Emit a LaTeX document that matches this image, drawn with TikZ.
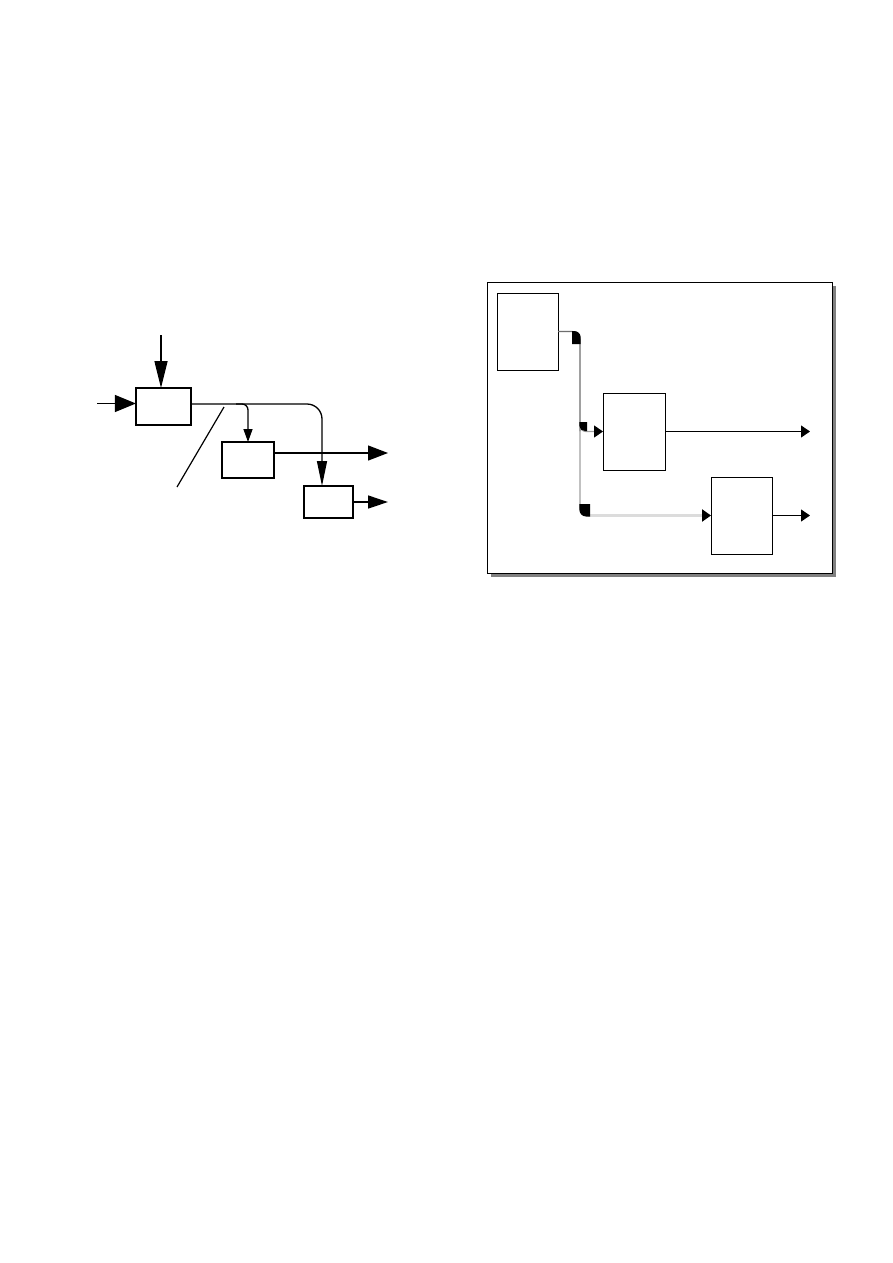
\documentclass[tikz,border=0pt]{standalone}
\usetikzlibrary{arrows.meta,shadows}
\definecolor{lineA}{HTML}{6E6E6E}
\definecolor{lineB}{HTML}{A0A0A0}
\definecolor{lineC}{HTML}{DCDCDC}
\definecolor{shadowgray}{HTML}{808080}
\tikzset{
  lbox/.style={draw=black, line width=1.5pt, fill=white, inner sep=0pt, outer sep=0pt, rectangle},
  rbox/.style={draw=black, line width=1pt, fill=white, inner sep=0pt, outer sep=0pt, rectangle, minimum width=61pt, minimum height=77pt},
  lline/.style={line width=1.3pt, black},
  bigtip/.style={-{Triangle[length=20pt,width=15pt]}},
  rtip/.style={-{Triangle[length=9pt,width=12pt,color=black]}},
  frame/.style={draw=black, line width=1pt, fill=white, inner sep=0pt, outer sep=0pt,
    minimum width=345pt, minimum height=291pt,
    drop shadow={shadow xshift=4pt, shadow yshift=-4pt, fill=shadowgray, opacity=1}},
}
\begin{document}
\begin{tikzpicture}[x=1pt,y=-1pt]
\useasboundingbox (0,0) rectangle (893,1263);
% ---------- left diagram ----------
\node[lbox, minimum width=55pt, minimum height=37pt] (A) at (163.4,406.5) {};
\node[lbox, line width=2.2pt, minimum width=52pt, minimum height=36pt] (B) at (248,460) {};
\node[lbox, minimum width=49pt, minimum height=32pt] (C) at (328.5,502) {};
\coordinate (topin) at (161,335);
\coordinate (leftin) at (97,403.5);
\coordinate (br) at (236,404);
\coordinate (bout) at (388,453);
\coordinate (cout) at (388,502);
\coordinate (s1) at (224,407);
\coordinate (s2) at (177,487);
\draw[lline, -{Triangle[length=27pt,width=13pt]}] (topin) -- ([xshift=-2.4pt]A.north);
\draw[lline, -{Triangle[length=21pt,width=17pt]}] (leftin) -- ([yshift=3pt]A.west);
\draw[lline, rounded corners=15pt, -{Triangle[length=25pt,width=10pt]}] ([yshift=2.5pt]A.east) -| ([xshift=-6.5pt]C.north);
\draw[lline, rounded corners=6pt, -{Triangle[length=13pt,width=9pt]}] (br) -| (B.north);
\draw[lline, bigtip] ([yshift=7pt]B.east) -- (bout);
\draw[lline, -{Triangle[length=20pt,width=13pt]}] (C.east) -- (cout);
\draw[lline, line width=1.2pt] (s1) -- (s2);
% ---------- right diagram ----------
\node[frame] (F) at (659.5,427.5) {};
\node[rbox] (R1) at (527.5,331.5) {};
\node[rbox, minimum width=62pt] (R2) at (634,431.5) {};
\node[rbox] (R3) at (741.5,515.5) {};
\coordinate (j1) at (580,331.5);
\coordinate (j2) at (580,431.5);
\coordinate (j3) at (580,515.5);
\coordinate (o2) at (810,431.5);
\coordinate (o3) at (810,515.5);
\draw[lineA, line width=1.2pt, rounded corners=8pt] (R1.east) -- (j1) -- (j2);
\draw[lineB, line width=1.2pt, rounded corners=8pt] (j2) -- (j3) -- ([xshift=-9pt]R3.west);
\draw[lineB, line width=1.2pt, rtip, rounded corners=6pt] ([yshift=8pt]j2) -- (j2) -- (R2.west);
\draw[lineC, line width=2.2pt, rtip] ([xshift=8pt]j3) -- (R3.west);
\draw[black, line width=1pt, rtip] (R2.east) -- (o2);
\draw[black, line width=1pt, rtip] (R3.east) -- (o3);
% filled corner marks
\fill[black] (572,344) -- (572,331) -- (574,331) .. controls (578,331) and (580.6,334) .. (580.6,337) -- (580.6,344) -- cycle;
\fill[black] (579.4,422) -- (587,422) -- (587,431) -- (585,431) .. controls (582,431) and (579.4,429) .. (579.4,426) -- cycle;
\fill[black] (579.4,504) -- (590,504) -- (590,516.5) -- (586,516.5) .. controls (582,516.5) and (579.4,513) .. (579.4,510) -- cycle;
\end{tikzpicture}
\end{document}
